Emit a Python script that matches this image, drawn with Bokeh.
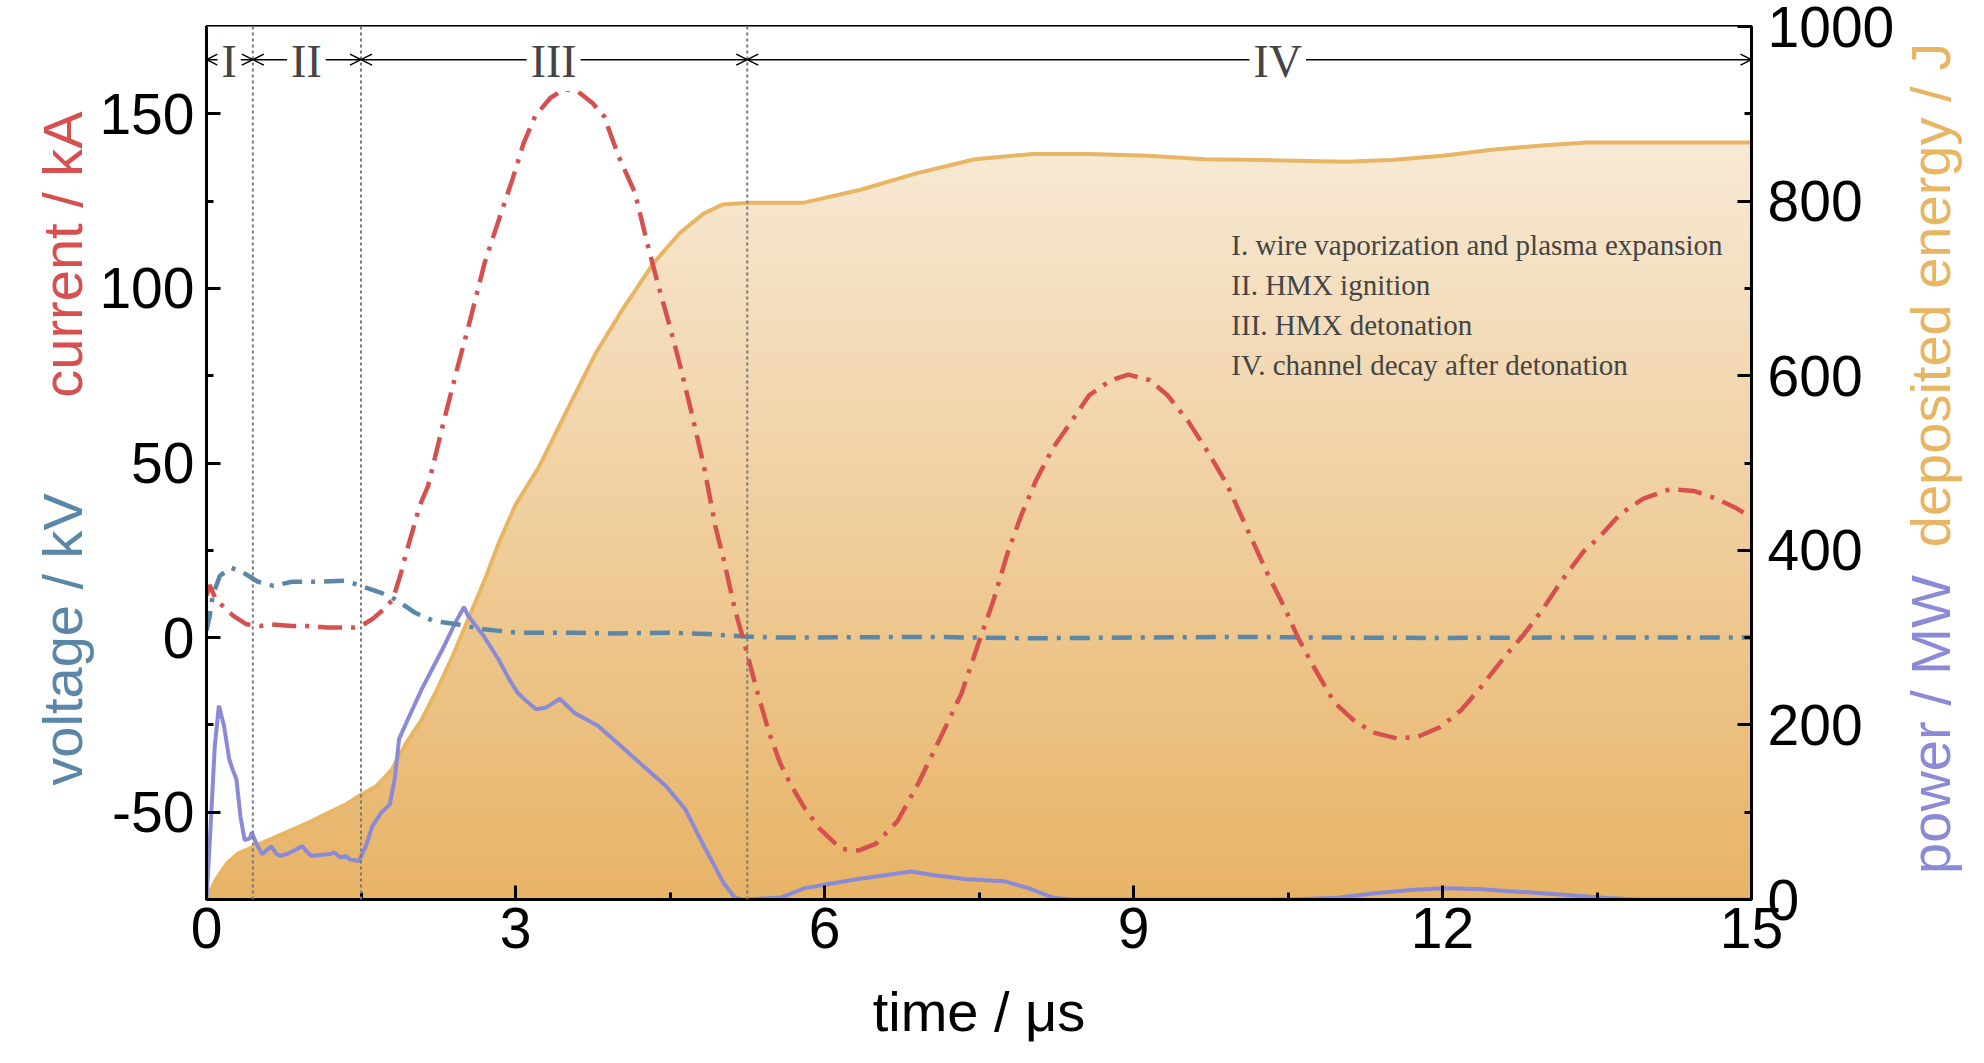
import numpy as np
from math import pi
from bokeh.plotting import figure
from bokeh.layouts import row
from bokeh.models import Range1d, LinearAxis, FixedTicker, Label, Span, Arrow, OpenHead
from bokeh.core.properties import value
from bokeh.embed import file_html
from bokeh.resources import INLINE

# values (time in microseconds)
t_current = [0, 0.03, 0.09, 0.19, 0.26, 0.39, 0.52, 0.63, 0.83, 0.98, 1.17, 1.43, 1.5, 1.61,
             1.72, 1.81, 1.89, 1.94, 2.0, 2.07, 2.15, 2.3, 2.44, 2.56, 2.7, 2.85, 2.97, 3.08,
             3.19, 3.34, 3.47, 3.6, 3.75, 3.86, 4.0, 4.16, 4.27, 4.38, 4.49, 4.6, 4.71, 4.83,
             4.94, 5.02, 5.13, 5.22, 5.35, 5.46, 5.57, 5.67, 5.81, 5.95, 6.16, 6.33, 6.5, 6.71,
             6.91, 7.12, 7.33, 7.5, 7.64, 7.78, 7.91, 8.05, 8.22, 8.4, 8.57, 8.78, 8.95, 9.16,
             9.33, 9.53, 9.74, 9.91, 10.09, 10.29, 10.47, 10.6, 10.76, 10.95, 11.15, 11.34,
             11.56, 11.76, 11.98, 12.18, 12.37, 12.6, 12.79, 12.98, 13.15, 13.37, 13.53, 13.73,
             13.95, 14.21, 14.44, 14.66, 14.85, 15.0]
current_ka = [12, 15, 11, 8.1, 6.2, 3.8, 3.3, 3.8, 3.3, 3.3, 2.9, 2.9, 3.3, 5.3,
              8.1, 11, 18.7, 24.4, 30.5, 37.8, 43.3, 61.5, 77.7, 91, 107.3, 120.7, 131.2, 141.7,
              149.3, 154.6, 157, 156.5, 153, 149.3, 137.9, 127.4, 114, 101.6, 90, 77.7, 64.3, 49,
              31.9, 22.5, 8.1, -1.4, -15.8, -27, -36, -42, -49, -54.6, -60.5, -61, -59, -52.5,
              -41.8, -29, -16, -1.2, 10.6, 24.5, 35, 44.8, 54.4, 62, 69.4, 73.7, 75.3, 73.7,
              69.4, 62, 52.3, 43.7, 32, 19, 8.4, -0.2, -8.9, -18.6, -24, -27.3,
              -28.9, -28.4, -25.6, -20.8, -14.3, -5.6, 0.9, 8.4, 16, 24.7, 29, 35.5,
              39.8, 42.5, 42, 39.8, 37.1, 34.4]

t_voltage = [0, 0.03, 0.06, 0.13, 0.24, 0.35, 0.5, 0.65, 0.83, 1.06, 1.35, 1.5, 1.69, 1.83,
             2.02, 2.2, 2.43, 2.69, 3.02, 3.57, 3.94, 4.5, 4.87, 5.22, 5.57, 7.0, 8.0, 9.0,
             10.0, 11.0, 12.0, 13.0, 15.0]
voltage_kv = [2, 6, 12, 17.7, 20, 18.7, 16, 14.8, 16, 16, 16.3, 14.8, 12.9, 11,
              7.2, 4.8, 3.8, 2.4, 1.4, 1.4, 1.2, 1.4, 1.0, 0.3, 0, 0.2, -0.2, 0,
              0.2, 0, -0.1, 0, 0]

t_power = [0, 0.04, 0.08, 0.12, 0.17, 0.22, 0.25, 0.29, 0.33, 0.37, 0.42, 0.44, 0.48, 0.54,
           0.6, 0.63, 0.68, 0.72, 0.8, 0.88, 0.93, 0.98, 1.02, 1.1, 1.2, 1.24, 1.3, 1.35, 1.39,
           1.48, 1.55, 1.61, 1.7, 1.78, 1.83, 1.87, 1.95, 2.09, 2.2, 2.31, 2.42, 2.5, 2.54,
           2.69, 2.83, 2.95, 3.02, 3.1, 3.2, 3.3, 3.43, 3.5, 3.57, 3.8, 4.02, 4.24, 4.46, 4.65,
           4.83, 5.02, 5.13, 5.2, 5.57, 5.81, 6.0, 6.33, 6.6, 6.84, 7.05, 7.36, 7.74, 7.98,
           8.22, 8.4, 10.5, 10.98, 11.3, 11.69, 12.02, 12.34, 12.76, 13.24, 13.56, 13.89, 15.0]
power_mw = [0, 84, 175, 222, 199, 161, 150, 138, 95, 68, 70, 77, 65, 52,
            58, 61, 52, 50, 53, 58, 61, 54, 50, 51, 52, 54, 48, 50, 46,
            44, 62, 84, 100, 109, 140, 184, 205, 241, 266, 291, 318, 335, 325,
            302, 276, 250, 237, 228, 218, 220, 230, 222, 214, 199, 176, 153, 130, 103,
            61, 19, 2, 0, 2, 13, 17, 23.5, 28, 32, 28, 23.5, 21, 13,
            2, 0, 0, 2, 6.5, 11, 13, 12, 8.7, 5, 2, 0, 0]

t_energy = [0, 0.09, 0.2, 0.31, 0.61, 0.98, 1.35, 1.5, 1.65, 1.8, 1.94, 2.09, 2.24, 2.39,
            2.54, 2.69, 2.85, 3.0, 3.23, 3.52, 3.78, 4.04, 4.34, 4.6, 4.83, 5.01, 5.27, 5.79,
            6.35, 6.9, 7.46, 8.02, 8.58, 9.14, 9.7, 10.25, 11.06, 11.5, 12.0, 12.5, 13.0,
            13.4, 15.0]
energy_j = [0, 22.6, 41.6, 53, 68.4, 87.6, 108.7, 120, 129.8, 148.9, 179.5, 206.2, 240.7, 278.9,
            321, 363, 412, 452, 496, 565, 626, 676, 729, 764, 786, 796, 798, 798,
            813, 832, 848, 854, 854, 852, 848, 847, 845, 847, 852, 859, 864,
            867, 867]

phase_bounds = [0, 0.45, 1.5, 5.25, 15]
phase_names = ["I", "II", "III", "IV"]
phase_name_x = [0.22, 0.97, 3.37, 10.4]
phase_notes = ["I. wire vaporization and plasma expansion",
               "II. HMX ignition",
               "III. HMX detonation",
               "IV. channel decay after detonation"]

x_ticks = [0, 3, 6, 9, 12, 15]
x_minor = [1.5, 4.5, 7.5, 10.5, 13.5]
left_ticks = [-50, 0, 50, 100, 150]
left_minor = [-25, 25, 75, 125]
right_ticks = [0, 200, 400, 600, 800, 1000]
right_minor = [100, 300, 500, 700, 900]

RED = "#d5504f"
BLUE = "#5a86a7"
PURPLE = "#8a8ad6"
ORANGE = "#e8b563"
SANS = "Liberation Sans"
SERIF = "Liberation Serif"
TICK_SIZE = "57px"
TITLE_SIZE = "56px"

H = 1047
W_LEFT, W_MAIN, W_RIGHT = 96, 1801, 71

p = figure(width=W_MAIN, height=H, x_range=Range1d(0, 15), y_range=Range1d(-75, 175),
           output_backend="svg", toolbar_location=None,
           min_border_left=108, min_border_right=144, min_border_top=26, min_border_bottom=148)
p.extra_y_ranges = {"energy": Range1d(0, 1000)}
p.grid.visible = False
p.outline_line_color = "black"
p.outline_line_width = 3
p.background_fill_color = "white"
p.border_fill_color = "white"


def style_axis(ax, ticks, minor, standoff):
    ax.ticker = FixedTicker(ticks=ticks, minor_ticks=minor)
    ax.axis_line_width = 3
    ax.major_tick_line_width = 3
    ax.minor_tick_line_width = 3
    ax.major_tick_in = 14
    ax.major_tick_out = 0
    ax.minor_tick_in = 7
    ax.minor_tick_out = 0
    ax.major_label_text_font = SANS
    ax.major_label_text_font_size = TICK_SIZE
    ax.major_label_text_color = "black"
    ax.major_label_standoff = standoff


style_axis(p.xaxis[0], x_ticks, x_minor, 8)
p.xaxis[0].axis_label = "time / μs"
p.xaxis[0].axis_label_text_font = SANS
p.xaxis[0].axis_label_text_font_size = TITLE_SIZE
p.xaxis[0].axis_label_text_font_style = "normal"
p.xaxis[0].axis_label_text_color = "black"
p.xaxis[0].axis_label_standoff = 29

style_axis(p.yaxis[0], left_ticks, left_minor, 12)
p.yaxis[0].major_label_overrides = {v: str(v) for v in left_ticks}
right_axis = LinearAxis(y_range_name="energy")
style_axis(right_axis, right_ticks, right_minor, 16)
p.add_layout(right_axis, "right")

# vertical colour gradient under the energy curve
e_range = p.extra_y_ranges["energy"]
rows = 400
frac = np.linspace(0, 1, rows)
low = np.array([232, 180, 103])
high = np.array([250, 242, 230])
rgb = (low + (high - low) * frac[:, None]).astype(np.uint8)
img = np.empty((rows, 1), dtype=np.uint32)
view = img.view(dtype=np.uint8).reshape((rows, 1, 4))
view[:, 0, 0] = rgb[:, 0]
view[:, 0, 1] = rgb[:, 1]
view[:, 0, 2] = rgb[:, 2]
view[:, 0, 3] = 255
p.image_rgba(image=[img], x=p.x_range.start, y=e_range.start,
             dw=p.x_range.end - p.x_range.start, dh=e_range.end - e_range.start,
             y_range_name="energy")
p.varea(x=t_energy, y1=energy_j, y2=e_range.end, fill_color="white", y_range_name="energy")
p.line(t_energy, energy_j, line_color=ORANGE, line_width=4, y_range_name="energy")

for b in phase_bounds[1:-1]:
    p.add_layout(Span(location=b, dimension="height", line_color="#7a7a7a",
                      line_width=2, line_dash="3 3"))

p.line(t_power, power_mw, line_color=PURPLE, line_width=4, y_range_name="energy")
p.line(t_voltage, voltage_kv, line_color=BLUE, line_width=4.5, line_dash="20 9 4 9")
p.line(t_current, current_ka, line_color=RED, line_width=4.5, line_dash="24 9 4 9")

# phase arrows along the top
arrow_y = 165.5
for i, name in enumerate(phase_names):
    p.add_layout(Arrow(x_start=phase_bounds[i], x_end=phase_bounds[i + 1],
                       y_start=arrow_y, y_end=arrow_y, line_width=1.5,
                       start=OpenHead(size=11, line_width=1.5),
                       end=OpenHead(size=11, line_width=1.5)))
    p.add_layout(Label(x=phase_name_x[i], y=arrow_y - 0.5, text=name, text_font=SERIF,
                       text_font_size="46px", text_align="center", text_baseline="middle",
                       background_fill_color="white", padding=4))

for i, note in enumerate(phase_notes):
    p.add_layout(Label(x=9.95, y=112.4 - 11.4 * i, text=note, text_font=SERIF,
                       text_font_size="29px", text_align="left", text_baseline="middle"))


# side strips that carry the coloured, vertical axis titles; their frames line up
# with the main frame, so they share its y range
def title_strip(width, xs, ys, texts, colors):
    f = figure(width=width, height=H, x_range=Range1d(0, width), y_range=p.y_range,
               output_backend="svg", toolbar_location=None, min_border=0,
               x_axis_location=None, y_axis_location=None)
    f.grid.visible = False
    f.outline_line_color = None
    f.text(x=xs, y=ys, text=texts, text_color=colors, angle=pi / 2,
           text_font=value(SANS), text_font_size=TITLE_SIZE,
           text_align="center", text_baseline="middle")
    return f


left = title_strip(W_LEFT, [62, 62], [109.7, -0.5], ["current / kA", "voltage / kV"],
                   [RED, BLUE])
right = title_strip(W_RIGHT, [33, 33], [98.1, -24.9], ["deposited energy / J", "power / MW"],
                    [ORANGE, PURPLE])

layout = row(left, p, right)
open("out.html", "w").write(file_html(layout, INLINE))
